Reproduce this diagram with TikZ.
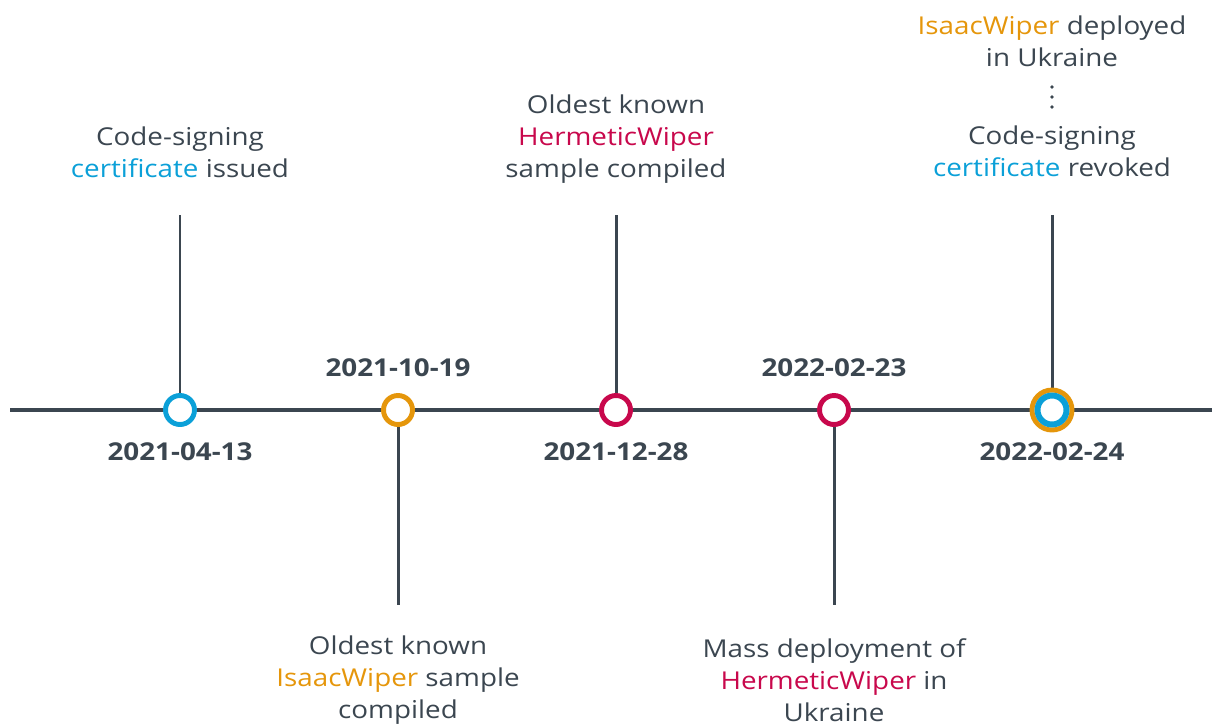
\documentclass[tikz,border=0pt]{standalone}
\usepackage{fontspec}
\setmainfont[FakeStretch=1.13]{Open Sans}
\usetikzlibrary{positioning}

\definecolor{ink}{HTML}{3B4650}
\definecolor{certblue}{HTML}{0BA0D8}
\definecolor{isaac}{HTML}{E5960B}
\definecolor{hermetic}{HTML}{C8084C}

\tikzset{
  event/.style={circle, draw=#1, fill=white, line width=2.8pt, minimum size=0.58cm, inner sep=0pt},
  stem/.style={ink, line width=1.7pt},
  label/.style={text=ink, align=center, font=\fontsize{14pt}{18.1pt}\selectfont},
  date/.style={text=ink, font=\fontsize{14pt}{17pt}\selectfont\bfseries}
}

\begin{document}
\begin{tikzpicture}[x=0.02cm, y=-0.02cm]
\useasboundingbox (0,0) rectangle (1212,725);

% the time axis
\coordinate (start) at (10,410);
\coordinate (end) at (1212,410);
\draw[ink, line width=2.8pt] (start) -- (end);

% stem ends
\coordinate (t1) at (180,215);
\coordinate (t2) at (398,605);
\coordinate (t3) at (616,215);
\coordinate (t4) at (834,605);
\coordinate (t5) at (1052,215);

\draw[stem] (180,410) -- (t1);
\draw[stem] (398,410) -- (t2);
\draw[stem] (616,410) -- (t3);
\draw[stem] (834,410) -- (t4);
\draw[stem] (1052,410) -- (t5);

% the events
\node[event=certblue] (e1) at (180,410) {};
\node[event=isaac] (e2) at (398,410) {};
\node[event=hermetic] (e3) at (616,410) {};
\node[event=hermetic] (e4) at (834,410) {};
\node[event=isaac, minimum size=0.8cm] (e5) at (1052,410) {};
\node[event=certblue, line width=3.4pt] (e5b) at (1052,410) {};

% dates
\node[date] (d1) at (180,452) {2021-04-13};
\node[date] (d2) at (398,368) {2021-10-19};
\node[date] (d3) at (616,452) {2021-12-28};
\node[date] (d4) at (834,368) {2022-02-23};
\node[date] (d5) at (1052,452) {2022-02-24};

% descriptions
\node[label] (l1) at (180,152) {Code-signing\\\textcolor{certblue}{certificate} issued};
\node[label] (l2) at (398,680) {Oldest known\\\textcolor{isaac}{IsaacWiper} sample\\compiled};
\node[label] (l3) at (616,139) {Oldest known\\\textcolor{hermetic}{HermeticWiper}\\sample compiled};
\node[label] (l4) at (834,680) {Mass deployment of\\\textcolor{hermetic}{HermeticWiper} in\\Ukraine};
\node[label] (l5a) at (1052,41) {\textcolor{isaac}{IsaacWiper} deployed\\in Ukraine};
\node[label] (l5b) at (1052,151) {Code-signing\\\textcolor{certblue}{certificate} revoked};

% dots between the two entries
\foreach \y in {87,97,107}
  \fill[ink] (1052,\y) circle (1.8);
\end{tikzpicture}
\end{document}
